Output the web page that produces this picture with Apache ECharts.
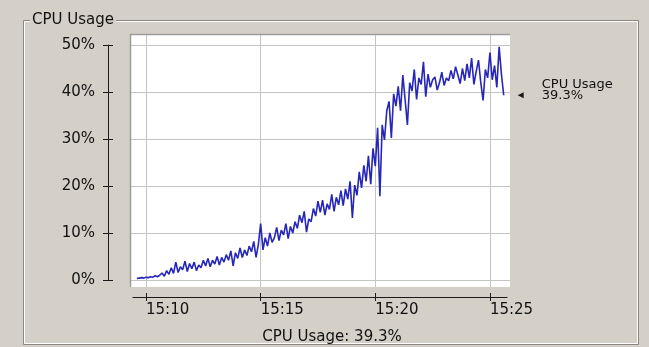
<!DOCTYPE html>
<html>
<head>
<meta charset="utf-8">
<script src="https://cdn.jsdelivr.net/npm/echarts@6/dist/echarts.min.js"></script>
<style>
  html, body { margin: 0; padding: 0; background: #d4d0c8; }
  #chart { width: 649px; height: 347px; }
</style>
</head>
<body>
<div id="chart"></div>
<script>
// CPU usage samples, one every 6 seconds starting at 15:09:36
const sampleStartSec = 9 * 60 + 36;   // seconds after 15:00
const sampleStepSec = 6;
const cpuUsage = [
  0.3, 0.4, 0.5, 0.4, 0.6, 0.5, 0.7, 0.6, 0.9, 0.7,
  1.0, 1.5, 0.8, 2.0, 1.2, 2.6, 1.4, 3.8, 1.6, 2.8,
  2.2, 4.0, 1.8, 3.5, 2.4, 3.8, 2.0, 3.2, 2.6, 4.2,
  3.0, 4.6, 2.8, 4.2, 3.4, 5.0, 3.2, 4.8, 3.8, 5.4,
  4.2, 6.2, 3.0, 5.8, 4.6, 6.8, 4.8, 6.4, 5.2, 7.2,
  6.0, 8.2, 4.8, 7.6, 12.0, 6.4, 9.0, 7.2, 10.0, 8.0,
  9.0, 11.2, 8.4, 10.6, 9.6, 12.0, 8.8, 11.4, 10.0, 12.4,
  11.0, 13.8, 12.2, 14.6, 10.2, 13.0, 12.4, 15.2, 13.6, 16.8,
  14.4, 17.0, 13.8, 16.2, 15.0, 18.2, 14.6, 17.6, 16.0, 19.0,
  15.8, 19.4, 17.2, 21.0, 13.2, 20.2, 18.0, 23.0, 19.6, 24.4,
  21.0, 26.4, 20.4, 28.0, 24.2, 32.4, 17.8, 33.0, 29.8, 36.0,
  38.0, 30.2, 39.6, 37.0, 41.2, 36.0, 43.6, 38.4, 33.0, 42.0,
  40.2, 44.8, 38.4, 43.0, 41.6, 46.4, 39.0, 43.8, 41.0, 42.6,
  43.2, 40.4, 42.0, 44.2, 41.4, 43.0, 42.4, 44.6, 42.8, 45.4,
  43.6, 41.8, 45.0, 42.4, 46.0, 43.0, 47.2, 41.6, 44.4, 46.8,
  42.0, 38.2, 44.8, 43.0, 48.4, 42.6, 45.6, 41.0, 49.6, 43.8,
  39.3
];
const timeTicks = [10, 15, 20, 25];          // minutes after 15:00
const percentTicks = [0, 10, 20, 30, 40, 50];
const seriesName = 'CPU Usage';
const currentUsage = cpuUsage[cpuUsage.length - 1];

const FONT = 'DejaVu Sans';
const BG = '#d4d0c8';

const points = cpuUsage.map((v, i) => [(sampleStartSec + i * sampleStepSec) / 60, v]);
const lastX = points[points.length - 1][0];
const clockLabel = v => '15:' + String(Math.round(v)).padStart(2, '0');

const chart = echarts.init(document.getElementById('chart'), null, { renderer: 'canvas' });

const gridLine = { show: true, lineStyle: { color: '#c4c4c4', width: 1 } };

chart.setOption({
  animation: false,
  backgroundColor: BG,
  textStyle: { fontFamily: FONT },
  grid: [
    // plot panel
    { left: 130, top: 34, width: 380, height: 253, show: true, backgroundColor: '#ffffff',
      borderWidth: 0, containLabel: false, outerBoundsMode: 'none' },
    // detached time axis
    { left: 133, top: 296, width: 374, height: 1, containLabel: false, outerBoundsMode: 'none' },
    // detached percent axis
    { left: 108, top: 45, width: 1, height: 235, containLabel: false, outerBoundsMode: 'none' }
  ],
  xAxis: [
    { gridIndex: 0, type: 'value', min: 9.302, max: 25.874,
      axisLine: { show: false }, axisLabel: { show: false },
      axisTick: { show: false, customValues: timeTicks },
      splitLine: gridLine },
    { gridIndex: 1, type: 'value', min: 9.433, max: 25.744, position: 'bottom', offset: 0,
      axisLine: { show: true, lineStyle: { color: '#1a1a1a', width: 1 } },
      axisTick: { show: true, inside: false, length: 4, customValues: timeTicks,
                  lineStyle: { color: '#1a1a1a' } },
      axisLabel: { show: true, customValues: timeTicks, formatter: clockLabel,
                   align: 'left', margin: 6, fontSize: 15, color: '#111', fontFamily: FONT },
      splitLine: { show: false } },
    { gridIndex: 1, type: 'value', min: 9.433, max: 25.744, position: 'bottom', offset: 0,
      axisLine: { show: false },
      axisTick: { show: true, inside: true, length: 4, customValues: timeTicks,
                  lineStyle: { color: '#1a1a1a' } },
      axisLabel: { show: false }, splitLine: { show: false } },
    { gridIndex: 2, type: 'value', show: false }
  ],
  yAxis: [
    { gridIndex: 0, type: 'value', min: -1.49, max: 52.34,
      axisLine: { show: false }, axisLabel: { show: false },
      axisTick: { show: false, customValues: percentTicks },
      splitLine: gridLine },
    { gridIndex: 1, type: 'value', show: false },
    { gridIndex: 2, type: 'value', min: 0, max: 50, interval: 10, position: 'left', offset: 0,
      axisLine: { show: true, lineStyle: { color: '#1a1a1a', width: 1 } },
      axisTick: { show: true, inside: false, length: 5, lineStyle: { color: '#1a1a1a' } },
      axisLabel: { show: true, formatter: '{value}%', margin: 13, fontSize: 15,
                   color: '#111', fontFamily: FONT },
      splitLine: { show: false } },
    { gridIndex: 2, type: 'value', min: 0, max: 50, interval: 10, position: 'left', offset: 0,
      axisLine: { show: false },
      axisTick: { show: true, inside: true, length: 5, lineStyle: { color: '#1a1a1a' } },
      axisLabel: { show: false }, splitLine: { show: false } }
  ],
  series: [{
    name: seriesName,
    type: 'line',
    xAxisIndex: 0,
    yAxisIndex: 0,
    data: points,
    showSymbol: false,
    clip: true,
    lineStyle: { color: '#2626b8', width: 1.6 },
    markPoint: {
      silent: true,
      symbol: 'triangle',
      symbolSize: [6, 6],
      symbolRotate: 90,
      symbolOffset: [17, 0],
      itemStyle: { color: '#1a1a1a' },
      label: {
        show: true, position: 'right', distance: 18, offset: [0, -5],
        formatter: seriesName + '\n' + currentUsage + '%',
        fontSize: 13, lineHeight: 11, color: '#111', fontFamily: FONT, align: 'left'
      },
      data: [{ coord: [lastX, currentUsage] }]
    }
  }],
  graphic: [
    // etched group box
    { type: 'rect', z: 1, silent: true, shape: { x: 23.5, y: 20.5, width: 615, height: 324 },
      style: { fill: null, stroke: '#8a877f', lineWidth: 1 } },
    { type: 'rect', z: 1, silent: true, shape: { x: 24.5, y: 21.5, width: 613, height: 322 },
      style: { fill: null, stroke: '#ffffff', lineWidth: 1 } },
    { type: 'text', z: 5, silent: true, x: 30, y: 20,
      style: { text: seriesName, font: '15px "DejaVu Sans"', fill: '#111',
               verticalAlign: 'middle', align: 'left',
               backgroundColor: BG, padding: [0, 2, 0, 2] } },
    // sunken edge of the plot panel
    { type: 'polyline', z: 10, silent: true,
      shape: { points: [[130.5, 287], [130.5, 34.5], [510, 34.5]] },
      style: { stroke: '#9c9c9c', lineWidth: 1.5, fill: null } },
    // status line under the chart
    { type: 'text', z: 5, silent: true, x: 332, y: 337,
      style: { text: seriesName + ': ' + currentUsage + '%', font: '15px "DejaVu Sans"',
               fill: '#111', align: 'center', verticalAlign: 'middle' } }
  ]
});
</script>
</body>
</html>
